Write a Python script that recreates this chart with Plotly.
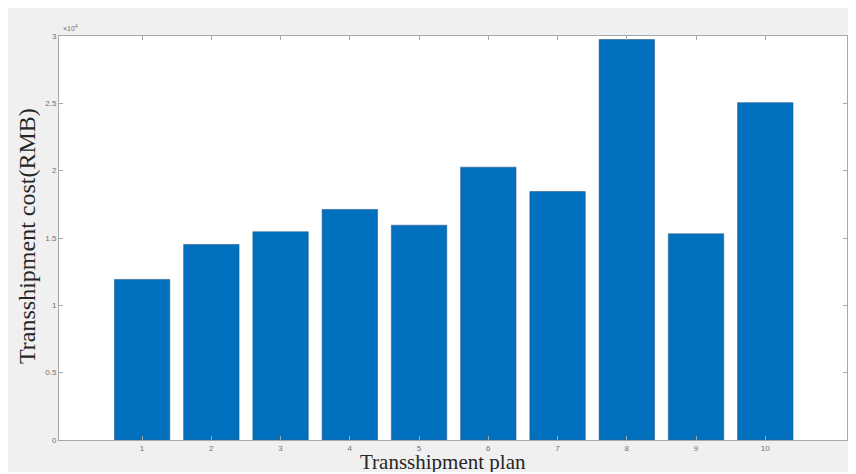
import plotly.graph_objects as go

plans = [1, 2, 3, 4, 5, 6, 7, 8, 9, 10]
cost_rmb = [11920, 14520, 15460, 17120, 15950, 20260, 18450, 29740, 15310, 25050]
y_tick_vals = [0, 5000, 10000, 15000, 20000, 25000, 30000]
y_tick_text = ["0", "0.5", "1", "1.5", "2", "2.5", "3"]
x_tick_text = [str(p) for p in plans]

# page body has an 8px margin, so the figure starts at screen (8, 8)
OFF = 8
W, H = 848, 464
L, R, T, B = 51, 9, 28, 32
pw, ph = W - L - R, H - T - B

def px_x(sx):
    return (sx - OFF - L) / pw

def px_y(sy):
    return (H - B - (sy - OFF)) / ph

fig = go.Figure(go.Bar(
    x=plans, y=cost_rmb, width=0.8,
    marker=dict(color="#0070BF", line=dict(color="#2a5c8c", width=0.6)),
))

axis_common = dict(showline=True, linecolor="#a8a8a8", linewidth=1, mirror="ticks",
                   ticks="inside", ticklen=4, tickcolor="#a8a8a8", showgrid=False,
                   zeroline=False, tickfont=dict(family="Liberation Sans, Arial", size=8, color="#707070"))

fig.update_layout(
    width=W, height=H,
    margin=dict(l=L, r=R, t=T, b=B),
    paper_bgcolor="#f0f0f0", plot_bgcolor="white",
    showlegend=False,
    xaxis=dict(range=[-0.2, 11.18], tickvals=plans, ticktext=x_tick_text, **axis_common),
    yaxis=dict(range=[0, 30000], tickvals=y_tick_vals, ticktext=y_tick_text, **axis_common),
    annotations=[
        dict(text="×10<sup>4</sup>", xref="paper", yref="paper", x=px_x(61), y=px_y(34),
             xanchor="left", yanchor="bottom", showarrow=False,
             font=dict(family="Liberation Sans, Arial", size=7, color="#707070")),
        dict(text="Transshipment plan", xref="paper", yref="paper", x=px_x(443), y=px_y(462),
             xanchor="center", yanchor="middle", showarrow=False,
             font=dict(family="Liberation Serif, Times New Roman", size=21, color="#262626")),
        dict(text="Transshipment cost(RMB)", xref="paper", yref="paper", x=px_x(27), y=px_y(236),
             xanchor="center", yanchor="middle", textangle=-90, showarrow=False,
             font=dict(family="Liberation Serif, Times New Roman", size=24, color="#262626")),
    ],
)

fig.write_html("out.html")
